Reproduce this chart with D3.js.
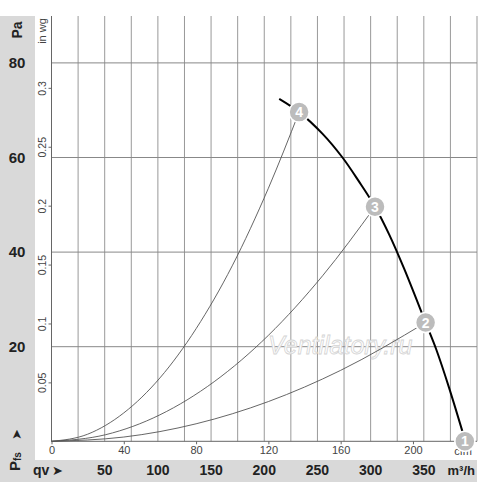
<!DOCTYPE html>
<html>
<head>
<meta charset="utf-8">
<script src="https://cdnjs.cloudflare.com/ajax/libs/d3/7.8.5/d3.min.js"></script>
<style>
  body { margin: 0; background: #fff; }
  svg { display: block; font-family: Arial, "Liberation Sans", sans-serif; }
</style>
</head>
<body>
<script>
var w = 500;
var h = 482;

// fan curve (cfm, Pa)
var fanQ = [126, 137, 150, 161, 170, 179, 187, 195, 207, 213, 220, 229];
var fanP = [72.4, 69.6, 65.0, 60.0, 55.0, 49.6, 43.6, 36.6, 25.1, 19.3, 11.3, 0];

// system curves (cfm, Pa)
var sys4Q = [0, 20, 40, 60, 80, 100, 120, 137];
var sys4P = [0, 1.5, 6.0, 13.4, 23.8, 37.1, 53.5, 69.6];
var sys3Q = [0, 30, 60, 90, 120, 150, 179];
var sys3P = [0, 1.4, 5.6, 12.6, 22.4, 35.0, 49.6];
var sys2Q = [0, 40, 80, 120, 160, 207];
var sys2P = [0, 0.9, 3.7, 8.4, 15.0, 25.1];

// operating points
var markerNames = ["1", "2", "3", "4"];
var markerQ = [228.7, 207, 179, 137];
var markerP = [0, 25.1, 49.6, 69.6];

// axes
var paTicks = [20, 40, 60, 80];
var inwgTicks = [0.05, 0.1, 0.15, 0.2, 0.25, 0.3];
var cfmTicks = [0, 40, 80, 120, 160, 200];
var m3hTicks = [50, 100, 150, 200, 250, 300, 350];
var m3hGrid = d3.range(25, 401, 25);

var CFM_PER_M3H = 1 / 1.699;
var PA_PER_INWG = 249.09;

var xScale = d3.scaleLinear()
  .domain([0, 400 * CFM_PER_M3H])
  .range([51.5, 477]);

var yScale = d3.scaleLinear()
  .domain([0, 80])
  .range([441.3, 62.9]);

var svg = d3.select("body")
  .append("svg")
  .attr("width", w)
  .attr("height", h);

// grey panels
svg.append("rect")
  .attr("x", 0).attr("y", 16)
  .attr("width", 35).attr("height", h - 16)
  .attr("fill", "#d9d9d9");
svg.append("rect")
  .attr("x", 0).attr("y", 460)
  .attr("width", 477).attr("height", 22)
  .attr("fill", "#d9d9d9");

// vertical grid every 25 m3/h
svg.append("g")
  .selectAll("line")
  .data(m3hGrid)
  .enter()
  .append("line")
  .attr("x1", function(d) { return xScale(d * CFM_PER_M3H); })
  .attr("x2", function(d) { return xScale(d * CFM_PER_M3H); })
  .attr("y1", 16)
  .attr("y2", yScale(0))
  .attr("stroke", "#999")
  .attr("stroke-width", 1);

// horizontal grid
svg.append("g")
  .selectAll("line")
  .data(paTicks)
  .enter()
  .append("line")
  .attr("x1", xScale(0))
  .attr("x2", 477)
  .attr("y1", function(d) { return yScale(d); })
  .attr("y2", function(d) { return yScale(d); })
  .attr("stroke", "#888")
  .attr("stroke-width", 1);

// axis lines
svg.append("line")
  .attr("x1", xScale(0)).attr("x2", xScale(0))
  .attr("y1", 16).attr("y2", yScale(0))
  .attr("stroke", "#666");
svg.append("line")
  .attr("x1", xScale(0)).attr("x2", 477)
  .attr("y1", yScale(0)).attr("y2", yScale(0))
  .attr("stroke", "#666");

// in wg axis (left, inside)
var yInwg = d3.scaleLinear()
  .domain([0, 80 / PA_PER_INWG])
  .range(yScale.range());

var inwgAxis = d3.axisLeft(yInwg)
  .tickValues(inwgTicks)
  .tickSize(3)
  .tickFormat(function(d) { return d; });

var gIn = svg.append("g")
  .attr("transform", "translate(" + xScale(0) + ",0)")
  .call(inwgAxis);
gIn.select(".domain").remove();
gIn.selectAll("line").attr("stroke", "#666");
gIn.selectAll("text")
  .attr("x", 0).attr("y", 0).attr("dy", null)
  .attr("transform", "translate(-6,0) rotate(-90)")
  .attr("text-anchor", "middle")
  .attr("font-size", 10.5)
  .attr("font-family", "Arial, 'Liberation Sans', sans-serif")
  .attr("fill", "#444");

svg.append("text")
  .attr("transform", "translate(46,31) rotate(-90)")
  .attr("text-anchor", "middle")
  .attr("font-size", 11)
  .attr("fill", "#444")
  .text("in wg");

// cfm axis (bottom)
var cfmAxis = d3.axisBottom(xScale)
  .tickValues(cfmTicks)
  .tickSize(3)
  .tickPadding(2);
var gCfm = svg.append("g")
  .attr("transform", "translate(0," + yScale(0) + ")")
  .call(cfmAxis);
gCfm.select(".domain").remove();
gCfm.selectAll("line").attr("stroke", "#666");
gCfm.selectAll("text")
  .attr("font-size", 11)
  .attr("font-family", "Arial, 'Liberation Sans', sans-serif")
  .attr("fill", "#444");

// Pa labels
svg.append("g")
  .selectAll("text")
  .data(paTicks)
  .enter()
  .append("text")
  .attr("x", 17)
  .attr("y", function(d) { return yScale(d) + 5; })
  .attr("text-anchor", "middle")
  .attr("font-size", 15)
  .attr("font-weight", "bold")
  .attr("fill", "#222")
  .text(function(d) { return d; });

svg.append("text")
  .attr("transform", "translate(22,30) rotate(-90)")
  .attr("text-anchor", "middle")
  .attr("font-size", 14)
  .attr("font-weight", "bold")
  .attr("fill", "#222")
  .text("Pa");

// m3/h labels
svg.append("g")
  .selectAll("text")
  .data(m3hTicks)
  .enter()
  .append("text")
  .attr("x", function(d) { return xScale(d * CFM_PER_M3H); })
  .attr("y", 475)
  .attr("text-anchor", "middle")
  .attr("font-size", 14)
  .attr("font-weight", "bold")
  .attr("fill", "#222")
  .text(function(d) { return d; });

svg.append("text")
  .attr("x", 475).attr("y", 475)
  .attr("text-anchor", "end")
  .attr("font-size", 13)
  .attr("font-weight", "bold")
  .attr("fill", "#222")
  .text("m³/h");

svg.append("text")
  .attr("x", 33).attr("y", 475)
  .attr("font-size", 14)
  .attr("font-weight", "bold")
  .attr("fill", "#222")
  .text("qv");
svg.append("text")
  .attr("x", 52).attr("y", 475)
  .attr("font-size", 13)
  .attr("font-family", "DejaVu Sans")
  .attr("fill", "#222")
  .text("\u27A4");

// Pfs
var pfs = svg.append("text")
  .attr("transform", "translate(20,471) rotate(-90)")
  .attr("font-size", 15)
  .attr("font-weight", "bold")
  .attr("fill", "#222");
pfs.append("tspan").text("P");
pfs.append("tspan").attr("font-size", 10).attr("dy", 1).text("fs");
svg.append("text")
  .attr("transform", "translate(21,440) rotate(-90)")
  .attr("font-size", 13)
  .attr("font-family", "DejaVu Sans")
  .attr("fill", "#222")
  .text("\u27A4");

// watermark
svg.append("text")
  .attr("x", 268).attr("y", 354)
  .attr("font-size", 25)
  .attr("font-style", "italic")
  .attr("fill", "#fff")
  .attr("stroke", "#d4d4d4")
  .attr("stroke-width", 0.8)
  .text("Ventilatory.ru");

// curves
var line = d3.line()
  .x(function(d) { return xScale(d[0]); })
  .y(function(d) { return yScale(d[1]); })
  .curve(d3.curveMonotoneX);

var systems = [[sys2Q, sys2P], [sys3Q, sys3P], [sys4Q, sys4P]];
svg.append("g")
  .selectAll("path")
  .data(systems)
  .enter()
  .append("path")
  .attr("d", function(s) { return line(d3.zip(s[0], s[1])); })
  .attr("fill", "none")
  .attr("stroke", "#555")
  .attr("stroke-width", 0.9);

var fanLine = d3.line()
  .x(function(d) { return xScale(d[0]); })
  .y(function(d) { return yScale(d[1]); })
  .curve(d3.curveCatmullRom);

svg.append("path")
  .attr("d", fanLine(d3.zip(fanQ, fanP)))
  .attr("fill", "none")
  .attr("stroke", "#000")
  .attr("stroke-width", 2);

// cfm unit label
svg.append("text")
  .attr("x", 463).attr("y", 455)
  .attr("text-anchor", "middle")
  .attr("font-size", 11)
  .attr("fill", "#444")
  .text("cfm");

// markers
var mk = svg.append("g")
  .selectAll("g")
  .data(markerNames)
  .enter()
  .append("g")
  .attr("transform", function(d, i) {
    return "translate(" + xScale(markerQ[i]) + "," + yScale(markerP[i]) + ")";
  });
mk.append("circle")
  .attr("r", 10)
  .attr("fill", "#bcbcbc")
  .attr("stroke", "#fff")
  .attr("stroke-width", 1.5);
mk.append("text")
  .attr("y", 5)
  .attr("text-anchor", "middle")
  .attr("font-size", 14)
  .attr("font-weight", "bold")
  .attr("fill", "#fff")
  .text(function(d) { return d; });
</script>
</body>
</html>
